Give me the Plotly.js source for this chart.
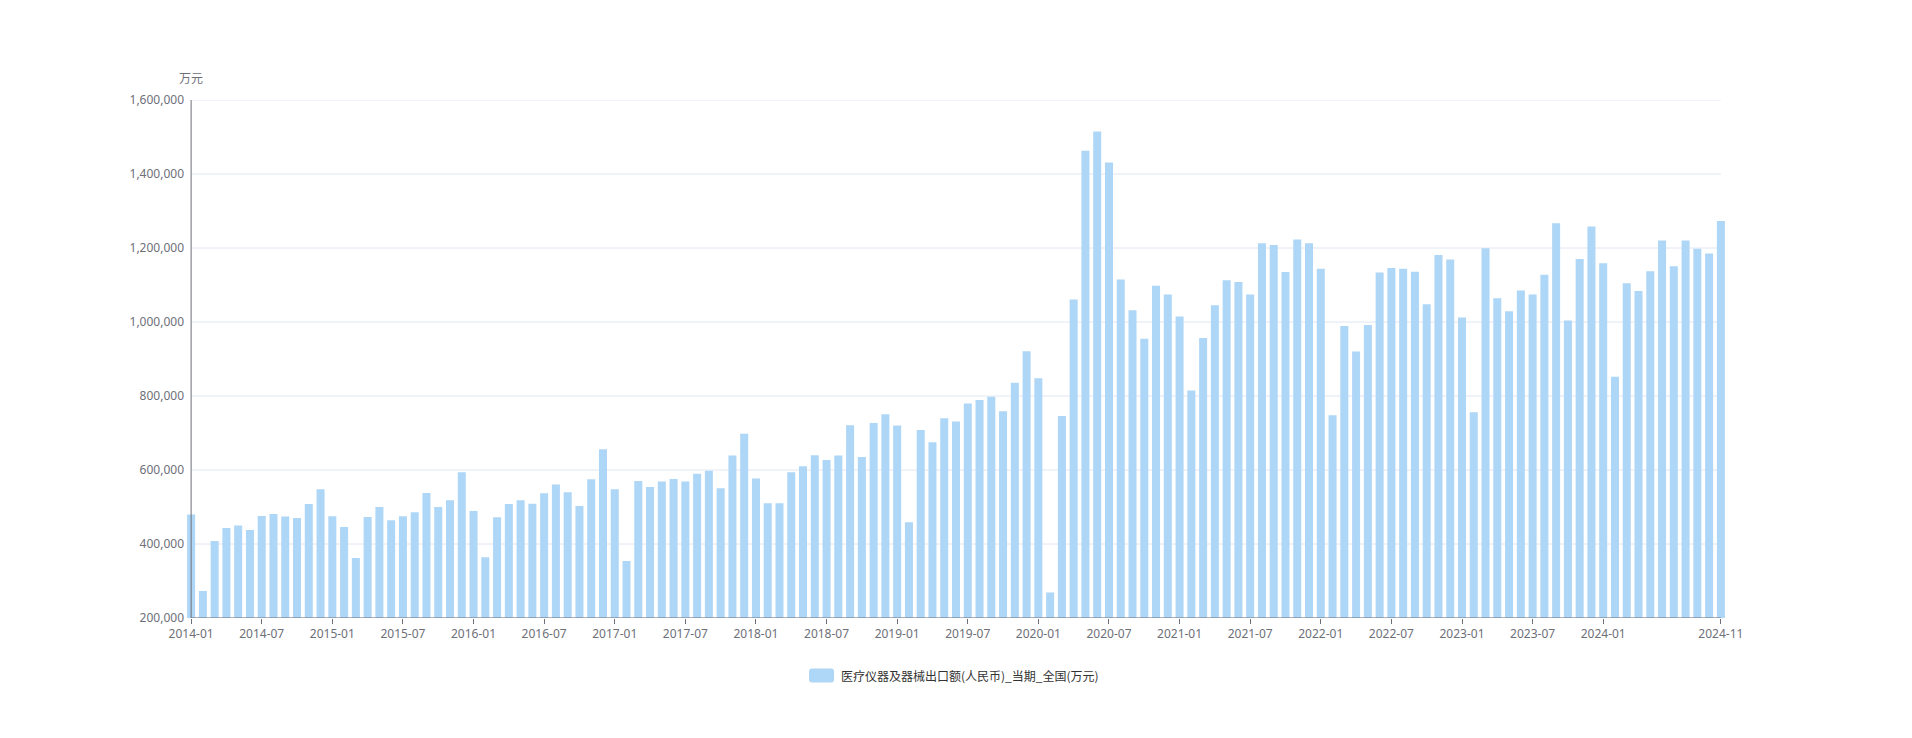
<!DOCTYPE html>
<html>
<head>
<meta charset="utf-8">
<script src="https://cdn.plot.ly/plotly-3.0.1.min.js"></script>
<style>
  html, body { margin: 0; padding: 0; background: #ffffff; }
  #chart { width: 1912px; height: 738px; }
</style>
</head>
<body>
<div id="chart"></div>
<script>
// ---- data ----
const seriesName = '医疗仪器及器械出口额(人民币)_当期_全国(万元)';
const unitLabel = '万元';

const startYear = 2014;
const months = [];
for (let i = 0; i < 131; i++) {
  const y = startYear + Math.floor(i / 12);
  const m = (i % 12) + 1;
  months.push(y + '-' + (m < 10 ? '0' + m : '' + m));
}

const values = [
  // 2014
  480000, 273000, 408000, 443000, 450000, 438000, 476000, 481000, 474000, 470000, 508000, 548000,
  // 2015
  475000, 446000, 362000, 473000, 500000, 464000, 475000, 486000, 538000, 500000, 518000, 594000,
  // 2016
  489000, 364000, 472000, 508000, 518000, 509000, 537000, 561000, 540000, 503000, 575000, 656000,
  // 2017
  548000, 354000, 570000, 554000, 569000, 576000, 569000, 590000, 598000, 551000, 639000, 698000,
  // 2018
  577000, 510000, 510000, 594000, 610000, 640000, 627000, 639000, 721000, 635000, 727000, 751000,
  // 2019
  720000, 459000, 708000, 675000, 740000, 731000, 780000, 789000, 798000, 759000, 836000, 921000,
  // 2020
  848000, 269000, 746000, 1061000, 1463000, 1515000, 1431000, 1115000, 1032000, 955000, 1098000, 1074000,
  // 2021
  1015000, 815000, 957000, 1045000, 1113000, 1108000, 1074000, 1213000, 1208000, 1135000, 1223000, 1213000,
  // 2022
  1144000, 748000, 989000, 920000, 992000, 1134000, 1146000, 1144000, 1136000, 1048000, 1181000, 1169000,
  // 2023
  1012000, 756000, 1199000, 1064000, 1029000, 1085000, 1074000, 1128000, 1267000, 1004000, 1170000, 1258000,
  // 2024
  1159000, 852000, 1105000, 1084000, 1137000, 1220000, 1151000, 1220000, 1198000, 1185000, 1273000
];

const xTickLabels = [
  '2014-01', '2014-07', '2015-01', '2015-07', '2016-01', '2016-07', '2017-01', '2017-07',
  '2018-01', '2018-07', '2019-01', '2019-07', '2020-01', '2020-07', '2021-01', '2021-07',
  '2022-01', '2022-07', '2023-01', '2023-07', '2024-01', '2024-11'
];

const yTicks = [200000, 400000, 600000, 800000, 1000000, 1200000, 1400000, 1600000];

// ---- style ----
const barColor = '#aed6f6';
const axisColor = '#6E7079';
const gridColor = '#E0E6F1';
const fontFamily = '"Noto Sans", "Noto Sans CJK SC", sans-serif';

const firstCat = months[0];
const lastCat = months[months.length - 1];

const shapes = [];
// gridlines
yTicks.forEach(v => {
  shapes.push({
    type: 'line', xref: 'x', yref: 'y', layer: 'below',
    x0: firstCat, x1: lastCat, y0: v, y1: v,
    line: { color: gridColor, width: 1 }
  });
});
// x axis line
shapes.push({
  type: 'line', xref: 'x', yref: 'y', layer: 'above',
  x0: firstCat, x1: lastCat, y0: yTicks[0], y1: yTicks[0],
  line: { color: axisColor, width: 1 }
});
// y axis line
shapes.push({
  type: 'line', xref: 'x', yref: 'y', layer: 'above',
  x0: firstCat, x1: firstCat, y0: yTicks[0], y1: yTicks[yTicks.length - 1],
  line: { color: axisColor, width: 1 }
});
// legend icon (rounded rect, pixel sized)
shapes.push({
  type: 'path', xref: 'paper', yref: 'paper',
  xsizemode: 'pixel', ysizemode: 'pixel',
  xanchor: 0.4207, yanchor: -0.111,
  path: 'M -22,-7 L -3,-7 Q 0,-7 0,-4 L 0,4 Q 0,7 -3,7 L -22,7 Q -25,7 -25,4 L -25,-4 Q -25,-7 -22,-7 Z',
  fillcolor: barColor, line: { width: 0 }
});

const trace = {
  type: 'bar',
  x: months,
  y: values,
  name: seriesName,
  marker: { color: barColor, line: { width: 0 } },
  hoverinfo: 'x+y'
};

const layout = {
  width: 1912,
  height: 738,
  margin: { l: 187, r: 187, t: 100, b: 120 },
  paper_bgcolor: '#ffffff',
  plot_bgcolor: '#ffffff',
  font: { family: fontFamily, size: 12, color: axisColor },
  showlegend: false,
  bargap: 0.32,
  xaxis: {
    type: 'category',
    range: [-0.35, months.length - 1 + 0.35],
    tickmode: 'array',
    tickvals: xTickLabels,
    ticktext: xTickLabels,
    ticks: 'outside',
    ticklen: 5,
    tickwidth: 1,
    tickcolor: axisColor,
    showgrid: false,
    showline: false,
    zeroline: false,
    tickangle: 0,
    tickfont: { family: fontFamily, size: 12, color: axisColor },
    fixedrange: true
  },
  yaxis: {
    range: [yTicks[0], yTicks[yTicks.length - 1]],
    tickmode: 'array',
    tickvals: yTicks,
    tickformat: ',d',
    showgrid: false,
    showline: false,
    zeroline: false,
    ticks: '',
    ticklabelstandoff: 2,
    tickfont: { family: fontFamily, size: 12, color: axisColor },
    fixedrange: true
  },
  shapes: shapes,
  annotations: [
    {
      text: unitLabel, xref: 'x', yref: 'paper',
      x: firstCat, y: 1.0425, xanchor: 'center', yanchor: 'middle',
      showarrow: false,
      font: { family: '"Noto Sans CJK SC", sans-serif', size: 12, color: axisColor }
    },
    {
      text: seriesName, xref: 'paper', yref: 'paper',
      x: 0.4239, y: -0.111, xanchor: 'left', yanchor: 'middle',
      showarrow: false,
      font: { family: '"Noto Sans CJK SC", sans-serif', size: 12, color: '#333333' }
    }
  ]
};

Plotly.newPlot('chart', [trace], layout, { displayModeBar: false, staticPlot: true });
</script>
</body>
</html>
